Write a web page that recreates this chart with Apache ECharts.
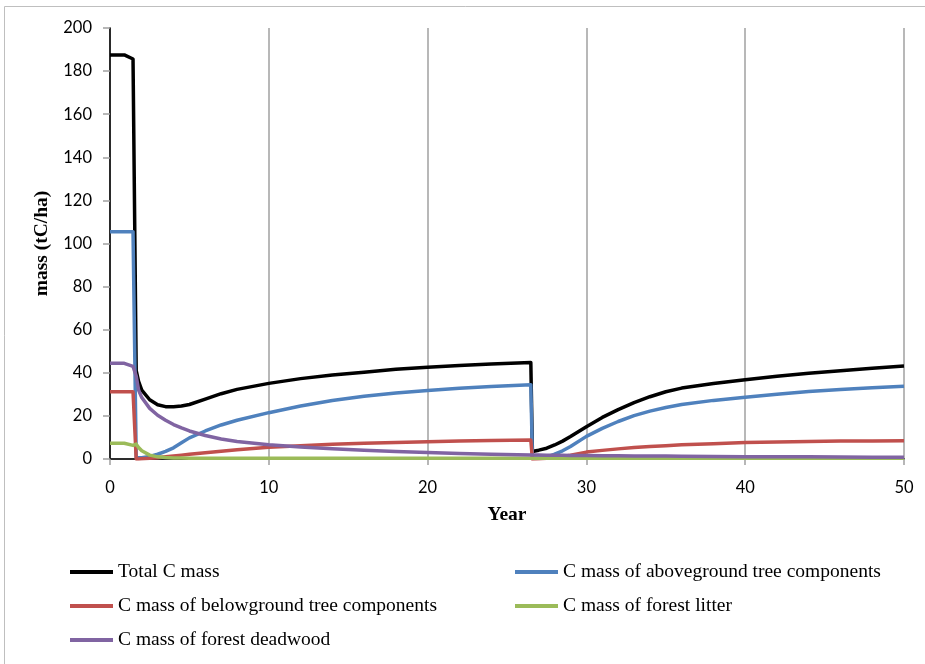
<!DOCTYPE html>
<html>
<head>
<meta charset="utf-8">
<script src="https://cdn.jsdelivr.net/npm/echarts@6/dist/echarts.min.js"></script>
<style>
html,body{margin:0;padding:0;background:#fff;}
#chart{width:925px;height:664px;}
</style>
</head>
<body>
<div id="chart"></div>
<script>
const years = [0, 0.9, 1.0, 1.45, 1.55, 1.65, 1.8, 2.0, 2.5, 3, 3.5, 4, 4.5, 5, 6, 7, 8, 10, 12, 14, 16, 18, 20, 22, 24, 26.5, 26.6, 27, 27.5, 28, 28.5, 29, 30, 31, 32, 33, 34, 35, 36, 38, 40, 42, 44, 46, 48, 50];
const totalC = [187.5, 187.5, 187.2, 185.6, 185.5, 41, 36, 32, 27.5, 25.2, 24.3, 24.2, 24.6, 25.3, 27.8, 30.3, 32.3, 35.1, 37.3, 39.0, 40.3, 41.6, 42.6, 43.4, 44.1, 44.8, 3.5, 4.1, 5.0, 6.5, 8.3, 10.4, 15.0, 19.3, 22.9, 26.2, 28.9, 31.2, 32.9, 35.0, 36.8, 38.4, 39.8, 41.0, 42.1, 43.1];
const aboveground = [105.5, 105.5, 105.5, 105.5, 105.5, 0.8, 0.6, 0.6, 1.2, 2.2, 3.5, 5.2, 7.5, 9.8, 13.0, 15.8, 18.0, 21.5, 24.6, 27.1, 29.1, 30.6, 31.8, 32.8, 33.6, 34.5, 0.6, 0.5, 0.9, 2.3, 3.8, 5.8, 10.5, 14.2, 17.4, 20.1, 22.2, 23.9, 25.3, 27.2, 28.7, 30.1, 31.3, 32.3, 33.1, 33.8];
const belowground = [31.2, 31.2, 31.2, 31.2, 31.2, 0, 0, 0.1, 0.3, 0.6, 1.0, 1.4, 1.8, 2.2, 2.9, 3.6, 4.3, 5.4, 6.2, 6.8, 7.3, 7.7, 8.0, 8.3, 8.6, 8.8, 0, 0.1, 0.3, 0.7, 1.2, 1.8, 3.2, 4.0, 4.7, 5.3, 5.8, 6.2, 6.6, 7.1, 7.6, 7.9, 8.1, 8.3, 8.4, 8.5];
const litter = [7.3, 7.3, 6.4, 6.3, 6.3, 6.9, 5.3, 3.8, 1.8, 1.0, 0.7, 0.5, 0.45, 0.4, 0.35, 0.3, 0.3, 0.3, 0.3, 0.3, 0.3, 0.3, 0.3, 0.3, 0.3, 0.3, 0.3, 0.3, 0.3, 0.3, 0.3, 0.3, 0.3, 0.3, 0.3, 0.3, 0.3, 0.3, 0.3, 0.3, 0.3, 0.3, 0.3, 0.3, 0.3, 0.3];
const deadwood = [44.4, 44.4, 44.2, 43.0, 42.6, 38.5, 32, 28.5, 23.5, 20.3, 18.0, 16.0, 14.4, 13.0, 10.9, 9.3, 8.1, 6.6, 5.6, 4.8, 4.1, 3.5, 3.0, 2.6, 2.2, 1.8, 1.8, 1.8, 1.75, 1.7, 1.7, 1.65, 1.6, 1.55, 1.5, 1.45, 1.4, 1.35, 1.3, 1.2, 1.1, 1.05, 1.0, 0.9, 0.85, 0.8];
const seriesNames = ['Total C mass', 'C mass of aboveground tree components', 'C mass of belowground tree components', 'C mass of forest litter', 'C mass of forest deadwood'];
const seriesValues = [totalC, aboveground, belowground, litter, deadwood];
const seriesColors = ['#000000', '#4F81BD', '#C0504D', '#9BBB59', '#8064A2'];
const xTitle = 'Year';
const yTitle = 'mass (tC/ha)';

const chart = echarts.init(document.getElementById('chart'), null, {renderer: 'canvas'});
const serifFont = '"Liberation Serif", serif';
const legendText = {fontFamily: serifFont, fontSize: 19.5, color: '#000', lineHeight: 20};

const series = seriesNames.map((name, k) => ({
  name: name,
  type: 'line',
  xAxisIndex: 0,
  yAxisIndex: 0,
  data: years.map((t, i) => [t, seriesValues[k][i]]),
  showSymbol: false,
  symbol: 'none',
  smooth: false,
  lineStyle: {color: seriesColors[k], width: 3.5, join: 'round'},
  itemStyle: {color: seriesColors[k]},
  z: 2 + k,
  animation: false
}));

chart.setOption({
  animation: false,
  backgroundColor: '#ffffff',
  graphic: [{
    type: 'rect',
    shape: {x: 4.5, y: 6.5, width: 1000, height: 1000},
    style: {fill: 'none', stroke: '#BFBFBF', lineWidth: 1},
    silent: true
  }],
  grid: {left: 110, top: 28, right: 21, bottom: 205, containLabel: false},
  legend: [{
    orient: 'vertical',
    left: 70,
    top: 562,
    padding: 0,
    itemWidth: 43,
    itemHeight: 4,
    itemGap: 14,
    icon: 'rect',
    textStyle: legendText,
    data: [seriesNames[0], seriesNames[2], seriesNames[4]]
  }, {
    orient: 'vertical',
    left: 515,
    top: 562,
    padding: 0,
    itemWidth: 43,
    itemHeight: 4,
    itemGap: 14,
    icon: 'rect',
    textStyle: legendText,
    data: [seriesNames[1], seriesNames[3]]
  }],
  xAxis: [{
    type: 'value',
    min: 0, max: 50, interval: 10,
    name: xTitle,
    nameLocation: 'middle',
    nameGap: 46,
    nameTextStyle: {fontFamily: serifFont, fontWeight: 'bold', fontSize: 19.5, color: '#000'},
    axisLine: {show: true, lineStyle: {color: '#A0A0A0', width: 1.5}},
    axisTick: {show: true, inside: false, length: 6, lineStyle: {color: '#A0A0A0', width: 1.5}},
    axisLabel: {fontFamily: 'Lato', fontSize: 16.5, color: '#000', margin: 20},
    splitLine: {show: true, lineStyle: {color: '#A0A0A0', width: 1.5}}
  }, {
    type: 'value',
    position: 'top',
    min: 0, max: 50, interval: 10,
    axisLine: {show: true, lineStyle: {color: '#000', width: 1.5}},
    axisTick: {show: false},
    axisLabel: {show: false},
    splitLine: {show: false}
  }],
  yAxis: [{
    type: 'value',
    min: 0, max: 200, interval: 20,
    name: yTitle,
    nameLocation: 'middle',
    nameGap: 54,
    nameTextStyle: {fontFamily: serifFont, fontWeight: 'bold', fontSize: 19.5, color: '#000'},
    axisLine: {show: true, lineStyle: {color: '#A0A0A0', width: 1.5}},
    axisTick: {show: true, inside: false, length: 7, lineStyle: {color: '#A0A0A0', width: 1.5}},
    axisLabel: {fontFamily: 'Lato', fontSize: 16.5, color: '#000', margin: 18},
    splitLine: {show: false}
  }, {
    type: 'value',
    position: 'right',
    min: 0, max: 200, interval: 20,
    axisLine: {show: true, lineStyle: {color: '#000', width: 1.5}},
    axisTick: {show: false},
    axisLabel: {show: false},
    splitLine: {show: false}
  }],
  series: series
});
</script>
</body>
</html>
